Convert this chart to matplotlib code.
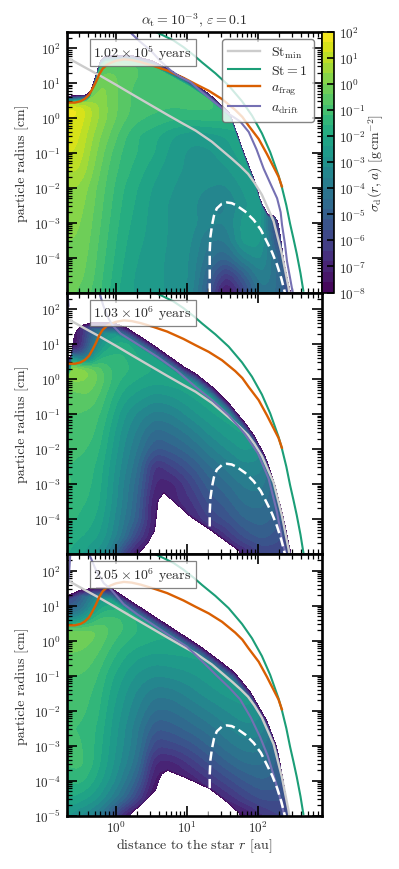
import numpy as np
import matplotlib
matplotlib.use("Agg")
import matplotlib.pyplot as plt
from matplotlib.ticker import LogLocator, NullFormatter

plt.rcParams['font.family'] = ['cmr10', 'DejaVu Serif']
plt.rcParams['mathtext.fontset'] = 'cm'
plt.rcParams['axes.formatter.use_mathtext'] = True
plt.rcParams['axes.unicode_minus'] = False
plt.rcParams['text.color'] = '#2a2a2a'
plt.rcParams['axes.labelcolor'] = '#2a2a2a'
plt.rcParams['xtick.labelcolor'] = '#2a2a2a'
plt.rcParams['ytick.labelcolor'] = '#2a2a2a'

# log10 grid the surface density was read on
log_r = [-0.7, -0.55, -0.4, -0.25, -0.1, 0.1, 0.3, 0.55, 0.8, 1.05, 1.3, 1.55, 1.8, 2.05, 2.3, 2.55]
log_a = [1.8, 1.5, 1.2, 0.9, 0.6, 0.3, 0.0, -0.5, -1.0, -1.5, -2.0, -2.5, -3.0, -3.5, -4.0, -4.5, -5.0]

sigma1 = [
    [-3, -3, -3, -2, -1.2, -0.9, -0.9, -1.0, -1.5, -2, -2, -2, -2, -2, -2, -2],
    [-3, -3, -3, -1.5, -0.6, -0.8, -0.8, -0.9, -1.2, -1.5, -1.5, -2, -2, -2, -2, -2],
    [-3, -3, -2.5, -0.3, -0.2, -0.6, -0.8, -0.9, -1.1, -1.3, -1.5, -1.5, -2, -2, -2, -2],
    [-3, -3, -1.5, 0.2, -0.1, -0.6, -0.9, -1.0, -1.0, -1.2, -1.3, -1.5, -1.5, -2, -2, -2],
    [-1.5, -1.5, -0.2, 0.3, -0.1, -0.6, -1.0, -1.0, -1.0, -1.1, -1.2, -1.5, -1.5, -2, -2, -2],
    [1.8, 1.8, 1.0, 0.4, -0.1, -0.6, -1.0, -1.1, -1.2, -1.1, -1.1, -1.3, -1.5, -2, -2, -2],
    [1.6, 1.6, 1.0, 0.4, -0.1, -0.7, -1.1, -1.3, -1.5, -1.5, -1.4, -1.4, -1.5, -2, -2, -3],
    [1.4, 1.4, 0.7, 0.1, -0.4, -1.1, -1.6, -1.9, -2.4, -2.7, -2.6, -2.4, -2.0, -2, -2.5, -5],
    [1.2, 1.2, 0.5, -0.1, -0.7, -1.3, -1.6, -2.0, -2.6, -2.9, -2.9, -2.6, -2.2, -2, -2.5, -5],
    [0.8, 0.9, 0.3, -0.3, -0.9, -1.4, -1.8, -2.3, -2.7, -2.9, -3.0, -2.9, -2.4, -2.2, -3, -6],
    [0.4, 0.4, 0.0, -0.5, -1.0, -1.6, -2.0, -2.5, -2.8, -3.0, -3.2, -3.3, -2.7, -2.4, -5, -6],
    [0.2, 0.2, -0.1, -0.6, -1.1, -1.7, -2.1, -2.6, -2.9, -3.0, -3.6, -3.7, -2.9, -2.5, -6, -6],
    [0.1, 0.1, -0.2, -0.7, -1.2, -1.8, -2.2, -2.6, -2.9, -3.0, -3.5, -3.6, -2.6, -2.4, -7, -7],
    [0.0, 0.0, -0.3, -0.8, -1.3, -1.9, -2.3, -2.6, -2.9, -3.1, -4.0, -4.0, -2.5, -2.6, -6, -7],
    [-0.1, -0.1, -0.4, -0.9, -1.4, -2.0, -2.4, -2.7, -2.9, -3.2, -4.3, -4.8, -3.5, -3.0, -5, -7],
    [-0.2, -0.2, -0.5, -1.0, -1.5, -2.1, -2.5, -2.7, -2.9, -3.2, -4.8, -6.5, -5.0, -3.5, -4.5, -7],
    [-0.3, -0.4, -0.7, -1.1, -1.6, -2.2, -2.5, -2.7, -2.9, -3.3, -5.2, -7.8, -6.0, -4.0, -4.5, -7],
]
sigma2 = [
    [-6, -6, -5, -4, -3.5, -3.5, -3.5, -4, -4, -4, -4, -4, -4, -4, -4, -4],
    [-8, -7.5, -6, -4.5, -3.5, -3, -3, -3.5, -4, -4, -4, -4, -4, -4, -4, -4],
    [-8, -7.5, -5.5, -3.5, -2.5, -2.2, -2.4, -3, -3.5, -4, -4, -4, -4, -4, -4, -4],
    [-8, -7.5, -5, -3, -1.8, -1.7, -2.2, -2.4, -2.8, -3, -3, -3, -3, -4, -4, -4],
    [-1.5, -4, -4, -1.5, -1.5, -1.5, -2, -2.2, -2.4, -2.6, -2.7, -3, -3, -4, -4, -4],
    [0.5, 0.7, 0.1, -0.6, -1.2, -1.4, -1.8, -2, -2.1, -2.1, -2.1, -2.2, -2.5, -4, -5, -6],
    [0, 0.1, 0.0, -0.4, -1.1, -1.7, -2, -2.2, -2.1, -2, -2, -2, -2, -2.5, -5, -6],
    [-0.6, -0.6, -0.4, -0.8, -1.4, -2.2, -2.6, -3, -2.8, -2.4, -2.1, -2, -2, -2.2, -4, -6],
    [-0.8, -0.8, -0.9, -1.1, -1.7, -2.7, -3.3, -3.8, -3.6, -3.0, -2.5, -2.2, -2.1, -2.3, -4, -6],
    [-0.9, -0.9, -1, -1.3, -2, -3, -3.7, -4.6, -4.3, -3.8, -3.1, -2.6, -2.3, -2.6, -4.5, -6],
    [-1, -1.1, -1.2, -1.5, -2.2, -3.2, -4, -5.3, -5, -4.5, -3.8, -3.2, -2.7, -3.0, -4.5, -6],
    [-1.2, -1.3, -1.4, -1.7, -2.4, -3.4, -4.3, -6.7, -6, -5.3, -4.5, -3.9, -3.3, -3.4, -5, -6],
    [-1.1, -1.3, -1.5, -1.8, -2.5, -3.6, -4.6, -7, -7, -6, -5, -4.5, -3.9, -3.8, -5, -6],
    [-1.3, -1.5, -1.6, -1.9, -2.6, -3.7, -4.8, -7.5, -7, -6.5, -5.5, -5, -4.3, -4.2, -5, -6],
    [-1.5, -1.6, -1.8, -2.1, -2.8, -3.9, -5, -7.5, -7.5, -7, -6, -5.5, -4.8, -4.6, -5, -6],
    [-1.8, -1.9, -2.1, -2.4, -3, -4.2, -6, -7.5, -8, -8, -7.6, -6.5, -5.5, -5, -5.5, -6],
    [-1.9, -2.3, -2.6, -3, -3.5, -6, -7.5, -8, -8, -8, -8, -7.8, -7, -6, -6, -6],
]
sigma3 = [
    [-6, -6, -5, -4, -3.5, -3.5, -3.5, -4, -4, -4, -4, -4, -4, -4, -4, -4],
    [-6.5, -6, -5, -3.5, -3, -2.8, -3, -3.5, -4, -4, -4, -4, -4, -4, -4, -4],
    [-6, -5.5, -4, -3, -2.5, -2.3, -2.5, -3, -3, -3, -3, -3, -4, -4, -4, -4],
    [-5, -4.5, -3.5, -2, -1.6, -1.6, -2.0, -2.4, -2.6, -2.6, -2.6, -3, -3, -4, -4, -4],
    [-3, -3, -2, -1, -1, -1.2, -1.7, -2, -2.2, -2.4, -2.4, -2.6, -3, -4, -4, -4],
    [-0.2, -0.2, -0.2, -0.4, -0.8, -1.2, -1.6, -1.9, -2, -2.2, -2.4, -2.5, -3, -4, -4, -5],
    [-0.2, -0.2, -0.3, -0.5, -1, -1.5, -1.8, -2, -2, -2.1, -2.2, -2.3, -2.6, -3.5, -5, -6],
    [-0.5, -0.5, -0.6, -0.9, -1.4, -2, -2.4, -2.6, -2.5, -2.4, -2.3, -2.2, -2.3, -3, -4, -6],
    [-0.8, -0.8, -0.9, -1.2, -1.8, -2.4, -2.9, -3.2, -3.1, -2.9, -2.6, -2.4, -2.3, -2.6, -4, -6],
    [-1, -1, -1.1, -1.4, -2, -2.7, -3.3, -3.9, -3.8, -3.4, -3, -2.7, -2.5, -2.8, -4, -6],
    [-1.1, -1.1, -1.2, -1.5, -2.2, -2.9, -3.6, -4.5, -4.4, -4, -3.6, -3.2, -2.9, -3, -4.5, -6],
    [-1.2, -1.2, -1.3, -1.7, -2.3, -3.1, -3.9, -5.2, -5, -4.6, -4.2, -3.7, -3.3, -3.4, -4.5, -6],
    [-1.2, -1.1, -1.3, -1.8, -2.4, -3.2, -4, -6, -5.8, -5.4, -4.8, -4.2, -3.8, -3.8, -5, -6],
    [-1.2, -1, -1.3, -1.9, -2.5, -3.4, -4.3, -7, -7, -6.3, -5.6, -4.9, -4.4, -4.3, -5, -6],
    [-1.6, -1.4, -1.7, -2.2, -2.8, -3.8, -5, -7.5, -7.5, -7.2, -6.5, -5.8, -5.2, -4.8, -5, -6],
    [-2, -2.1, -2.4, -2.8, -3.5, -4.5, -6, -8, -8, -8, -7.5, -6.8, -6, -5.5, -5.5, -6],
    [-2.7, -3.2, -3.5, -4, -5, -7, -8, -8, -8, -8, -8, -8, -7.5, -6.5, -6, -6],
]

# upper and lower edge of the dust distribution, (log r, log a)
top1_r = [-0.7, -0.42, -0.36, -0.3, -0.22, -0.15, 0.2, 0.5, 0.75, 1.0, 1.3, 1.6, 1.8, 1.94, 2.04, 2.14, 2.22, 2.29, 2.35, 2.4, 2.453, 2.6]
top1_a = [0.62, 0.66, 0.75, 1.1, 1.65, 1.78, 1.8, 1.65, 1.38, 1.1, 0.7, 0.15, -1.0, -1.73, -2.4, -2.78, -2.78, -3.02, -3.9, -4.5, -4.96, -6]
top2_r = [-0.7, -0.63, -0.6, -0.55, -0.47, -0.355, -0.03, 0.16, 0.49, 0.955, 1.12, 1.354, 1.587, 1.82, 1.94, 2.1, 2.24, 2.36, 2.453, 2.6]
top2_a = [0.62, 0.62, 1.2, 1.4, 1.54, 1.61, 1.61, 1.45, 1.02, 0.35, 0.16, -0.22, -0.69, -1.26, -1.6, -2.2, -3.03, -3.98, -4.89, -6]
top3_r = [-0.7, -0.66, -0.5, -0.215, -0.07, 0.25, 0.72, 1.19, 1.66, 1.89, 2.13, 2.27, 2.36, 2.43, 2.6]
top3_a = [1.25, 1.3, 1.45, 1.52, 1.5, 1.07, 0.45, -0.17, -0.89, -1.46, -2.31, -3.08, -4.03, -4.93, -6]
bot1_r = [-0.7, 2.9]
bot1_a = [-7, -7]
bot2_r = [-0.7, 0.2, 0.32, 0.44, 0.557, 0.58, 0.67, 0.815, 1.05, 1.33, 1.75, 1.9, 2.9]
bot2_a = [-7, -6, -4.97, -4.7, -4.27, -3.5, -3.24, -3.5, -3.93, -4.31, -4.93, -6, -7]
bot3_r = [-0.7, 0.1, 0.205, 0.35, 0.557, 0.627, 0.72, 1.0, 1.33, 1.56, 1.75, 1.9, 2.9]
bot3_a = [-7, -6, -4.93, -4.7, -4.27, -3.84, -3.7, -3.93, -4.24, -4.6, -4.95, -6, -7]

stmin_r = [-0.68, -0.45, -0.215, 0.0, 0.25, 0.5, 0.72, 0.95, 1.12, 1.35, 1.634, 1.75, 1.86, 1.95, 2.056, 2.22, 2.337, 2.43, 2.46]
stmin_a = [1.72, 1.46, 1.2, 0.95, 0.65, 0.355, 0.095, -0.17, -0.36, -0.68, -1.17, -1.38, -1.6, -1.85, -2.2, -2.95, -3.89, -4.84, -5.2]
st1_r = [0.53, 0.67, 0.81, 0.95, 1.10, 1.213, 1.40, 1.587, 1.775, 1.916, 2.056, 2.173, 2.29, 2.337, 2.40, 2.453, 2.5, 2.547, 2.6, 2.64]
st1_a = [2.49, 2.36, 2.22, 2.03, 1.79, 1.59, 1.28, 0.93, 0.48, 0.07, -0.44, -0.98, -1.65, -1.98, -2.5, -3.03, -3.45, -3.89, -4.45, -4.95]
frag_r = [-0.68, -0.58, -0.5, -0.44, -0.38, -0.33, -0.285, -0.24, -0.19, -0.13, -0.075, 0.0, 0.11, 0.22, 0.35, 0.53, 0.72, 0.95, 1.12, 1.306, 1.494, 1.68, 1.78, 1.868, 2.01, 2.126, 2.29, 2.337]
frag_a = [0.44, 0.44, 0.48, 0.55, 0.67, 0.85, 1.03, 1.24, 1.41, 1.52, 1.58, 1.64, 1.68, 1.66, 1.6, 1.49, 1.36, 1.15, 0.97, 0.78, 0.54, 0.23, 0.03, -0.22, -0.6, -1.03, -1.68, -1.96]
drift1_r = [0.18, 0.33, 0.49, 0.63, 0.77, 0.9, 1.05, 1.2, 1.38, 1.6, 1.75, 1.87, 1.98, 2.08, 2.18, 2.27, 2.32, 2.34, 2.38, 2.41, 2.45, 2.49]
drift1_a = [2.49, 2.2, 1.93, 1.62, 1.36, 1.18, 1.03, 0.76, 0.46, 0.1, -0.1, -0.4, -0.9, -1.45, -1.9, -2.3, -2.7, -3.07, -3.6, -4.11, -4.55, -5.0]
drift2_r = [-0.238, -0.18, -0.12, -0.07, -0.032, 0.065, 0.3, 0.58, 0.85, 1.12, 1.354, 1.587, 1.82, 2.0, 2.15, 2.267, 2.345, 2.383, 2.4]
drift2_a = [2.49, 2.1, 1.79, 1.6, 1.5, 1.3, 1.0, 0.64, 0.25, -0.22, -0.6, -1.03, -1.58, -2.12, -2.84, -3.79, -4.65, -4.93, -5.15]
drift3_r = [-0.383, -0.28, -0.173, -0.074, 0.108, 0.3, 0.49, 0.75, 1.0, 1.22, 1.42, 1.6, 1.75, 1.9, 2.03, 2.14, 2.22, 2.3, 2.36, 2.38]
drift3_a = [2.49, 2.0, 1.64, 1.47, 1.04, 0.75, 0.5, 0.15, -0.17, -0.6, -1.0, -1.35, -1.68, -2.2, -2.75, -3.3, -3.84, -4.4, -4.89, -5.1]
left1_r = [-0.69, -0.685]
left1_a = [2.49, 2.1]
left2_r = [-0.685, -0.67]
left2_a = [2.49, 2.1]
left3_r = [-0.645, -0.66, -0.68]
left3_a = [2.49, 2.0, 1.6]
dash_r = [1.32, 1.32, 1.33, 1.353, 1.38, 1.42, 1.49, 1.56, 1.63, 1.7, 1.82, 1.94, 2.04, 2.125, 2.2, 2.27, 2.33, 2.38]
dash_a = [-5.0, -3.83, -3.4, -3.07, -2.8, -2.59, -2.46, -2.42, -2.44, -2.51, -2.68, -2.92, -3.2, -3.54, -3.85, -4.21, -4.6, -5.0]

times = [r"$1.02\times10^{5}$ years", r"$1.03\times10^{6}$ years", r"$2.05\times10^{6}$ years"]
cbar_ticks = list(range(-8, 3))
W, H = 399, 870
edges_y = [32.5, 293.5, 555, 816.7]
x_l, x_r = 66.5, 322
slopes = [40, 16, 16]


def smooth1d(v, n):
    k = np.ones(n) / n
    return np.convolve(np.pad(v, n // 2, mode='edge'), k, mode='valid')


def field(sigma, top_r, top_a, bot_r, bot_a, slope):
    fine_r = np.linspace(-0.7, 2.91, 700)
    fine_a = np.linspace(-5.2, 2.5, 1000)
    s = np.array(sigma, dtype=float)[::-1]
    a_up = np.array(log_a)[::-1]
    tmp = np.array([np.interp(fine_a, a_up, c) for c in s.T]).T
    z = np.array([np.interp(fine_r, log_r, row) for row in tmp])
    # take the grid corners off
    for n in range(2):
        z = np.apply_along_axis(smooth1d, 0, z, 31)
        z = np.apply_along_axis(smooth1d, 1, z, 31)
    t = smooth1d(np.interp(fine_r, top_r, top_a), 9)[None, :]
    b = smooth1d(np.interp(fine_r, bot_r, bot_a), 9)[None, :]
    aa = fine_a[:, None]
    z = np.minimum(z, -8 + slope * (t - aa))
    z = np.minimum(z, -8 + 16 * (aa - b))
    return 10**fine_r, 10**fine_a, z


fig = plt.figure(figsize=(W / 100, H / 100), dpi=100)
levels = np.linspace(-8, 2, 26)
tops = [(top1_r, top1_a), (top2_r, top2_a), (top3_r, top3_a)]
bots = [(bot1_r, bot1_a), (bot2_r, bot2_a), (bot3_r, bot3_a)]
sigmas = [sigma1, sigma2, sigma3]
drifts = [(drift1_r, drift1_a), (drift2_r, drift2_a), (drift3_r, drift3_a)]
lefts = [(left1_r, left1_a), (left2_r, left2_a), (left3_r, left3_a)]

for i in range(3):
    ax = fig.add_axes([x_l / W, 1 - edges_y[i + 1] / H, (x_r - x_l) / W, (edges_y[i + 1] - edges_y[i]) / H])
    rr, aa, z = field(sigmas[i], tops[i][0], tops[i][1], bots[i][0], bots[i][1], slopes[i])
    cf = ax.contourf(rr, aa, z, levels=levels, cmap='viridis', zorder=1)
    ax.plot(10**np.array(stmin_r), 10**np.array(stmin_a), color='#cccccc', lw=1.7, label=r"$\mathrm{St}_\mathrm{min}$", zorder=3)
    ax.plot(10**np.array(st1_r), 10**np.array(st1_a), color='#1b9e77', lw=1.5, label=r"$\mathrm{St}=1$", zorder=3)
    ax.plot(10**np.array(frag_r), 10**np.array(frag_a), color='#d95f02', lw=1.7, label=r"$a_\mathrm{frag}$", zorder=3)
    ax.plot(10**np.array(drifts[i][0]), 10**np.array(drifts[i][1]), color='#7570b3', lw=1.5, label=r"$a_\mathrm{drift}$", zorder=3)
    ax.plot(10**np.array(lefts[i][0]), 10**np.array(lefts[i][1]), color='#7570b3', lw=1.5, zorder=3)
    ax.plot(10**np.array(dash_r), 10**np.array(dash_a), color='white', lw=1.8, ls=(0, (3.7, 1.8)), zorder=3)
    ax.set_xscale('log')
    ax.set_yscale('log')
    ax.set_xlim(0.2, 800)
    ax.set_ylim(1e-5, 300)
    ax.set_yticks([10.0**k for k in range(-4 if i < 2 else -5, 3)])
    ax.yaxis.set_minor_locator(LogLocator(base=10, subs=np.arange(2, 10), numticks=30))
    ax.yaxis.set_minor_formatter(NullFormatter())
    ax.xaxis.set_major_locator(LogLocator(base=10, numticks=10))
    ax.xaxis.set_minor_locator(LogLocator(base=10, subs=np.arange(2, 10), numticks=30))
    ax.xaxis.set_minor_formatter(NullFormatter())
    ax.tick_params(which='major', direction='in', top=True, right=True, length=7, width=1.2, labelsize=9.5, pad=4)
    ax.tick_params(axis='x', which='major', pad=3)
    ax.tick_params(which='minor', direction='in', top=True, right=True, length=3.5, width=0.9)
    for s in ax.spines.values():
        s.set_linewidth(1.9)
        s.set_zorder(6)
    ax.set_ylabel("particle radius [cm]", fontsize=10, labelpad=3)
    if i < 2:
        ax.set_xticklabels([])
    else:
        ax.set_xlabel(r"distance to the star $r$ [au]", fontsize=10, labelpad=0.5)
    ax.text(0.2975, 0.921, times[i], transform=ax.transAxes, ha='center', va='center', fontsize=10, zorder=5,
            bbox=dict(boxstyle='square,pad=0.28', fc='white', ec='#666666', alpha=0.8, lw=0.9))
    if i == 0:
        ax.set_title(r"$\alpha_\mathrm{t}=10^{-3}$, $\varepsilon=0.1$", fontsize=10, pad=6)
        ax.legend(loc='upper right', bbox_to_anchor=(0.969, 0.972), fontsize=10, framealpha=0.8, edgecolor='#666666',
                  handlelength=2.3, borderpad=0.45, labelspacing=0.28, handletextpad=0.8, borderaxespad=0)

cax = fig.add_axes([x_r / W, 1 - edges_y[1] / H, 12.5 / W, (edges_y[1] - edges_y[0]) / H])
cb = fig.colorbar(cf, cax=cax, ticks=cbar_ticks)
cb.ax.set_yticklabels([r"$10^{%d}$" % k for k in cbar_ticks])
cb.ax.tick_params(direction='in', length=5, width=1.2, labelsize=9.5, pad=3)
cb.outline.set_linewidth(1.2)
cb.set_label(r"$\sigma_\mathrm{d}(r,a)$ [g$\,$cm$^{-2}$]", fontsize=10, labelpad=0.5)

fig.savefig("out.png", dpi=100)
